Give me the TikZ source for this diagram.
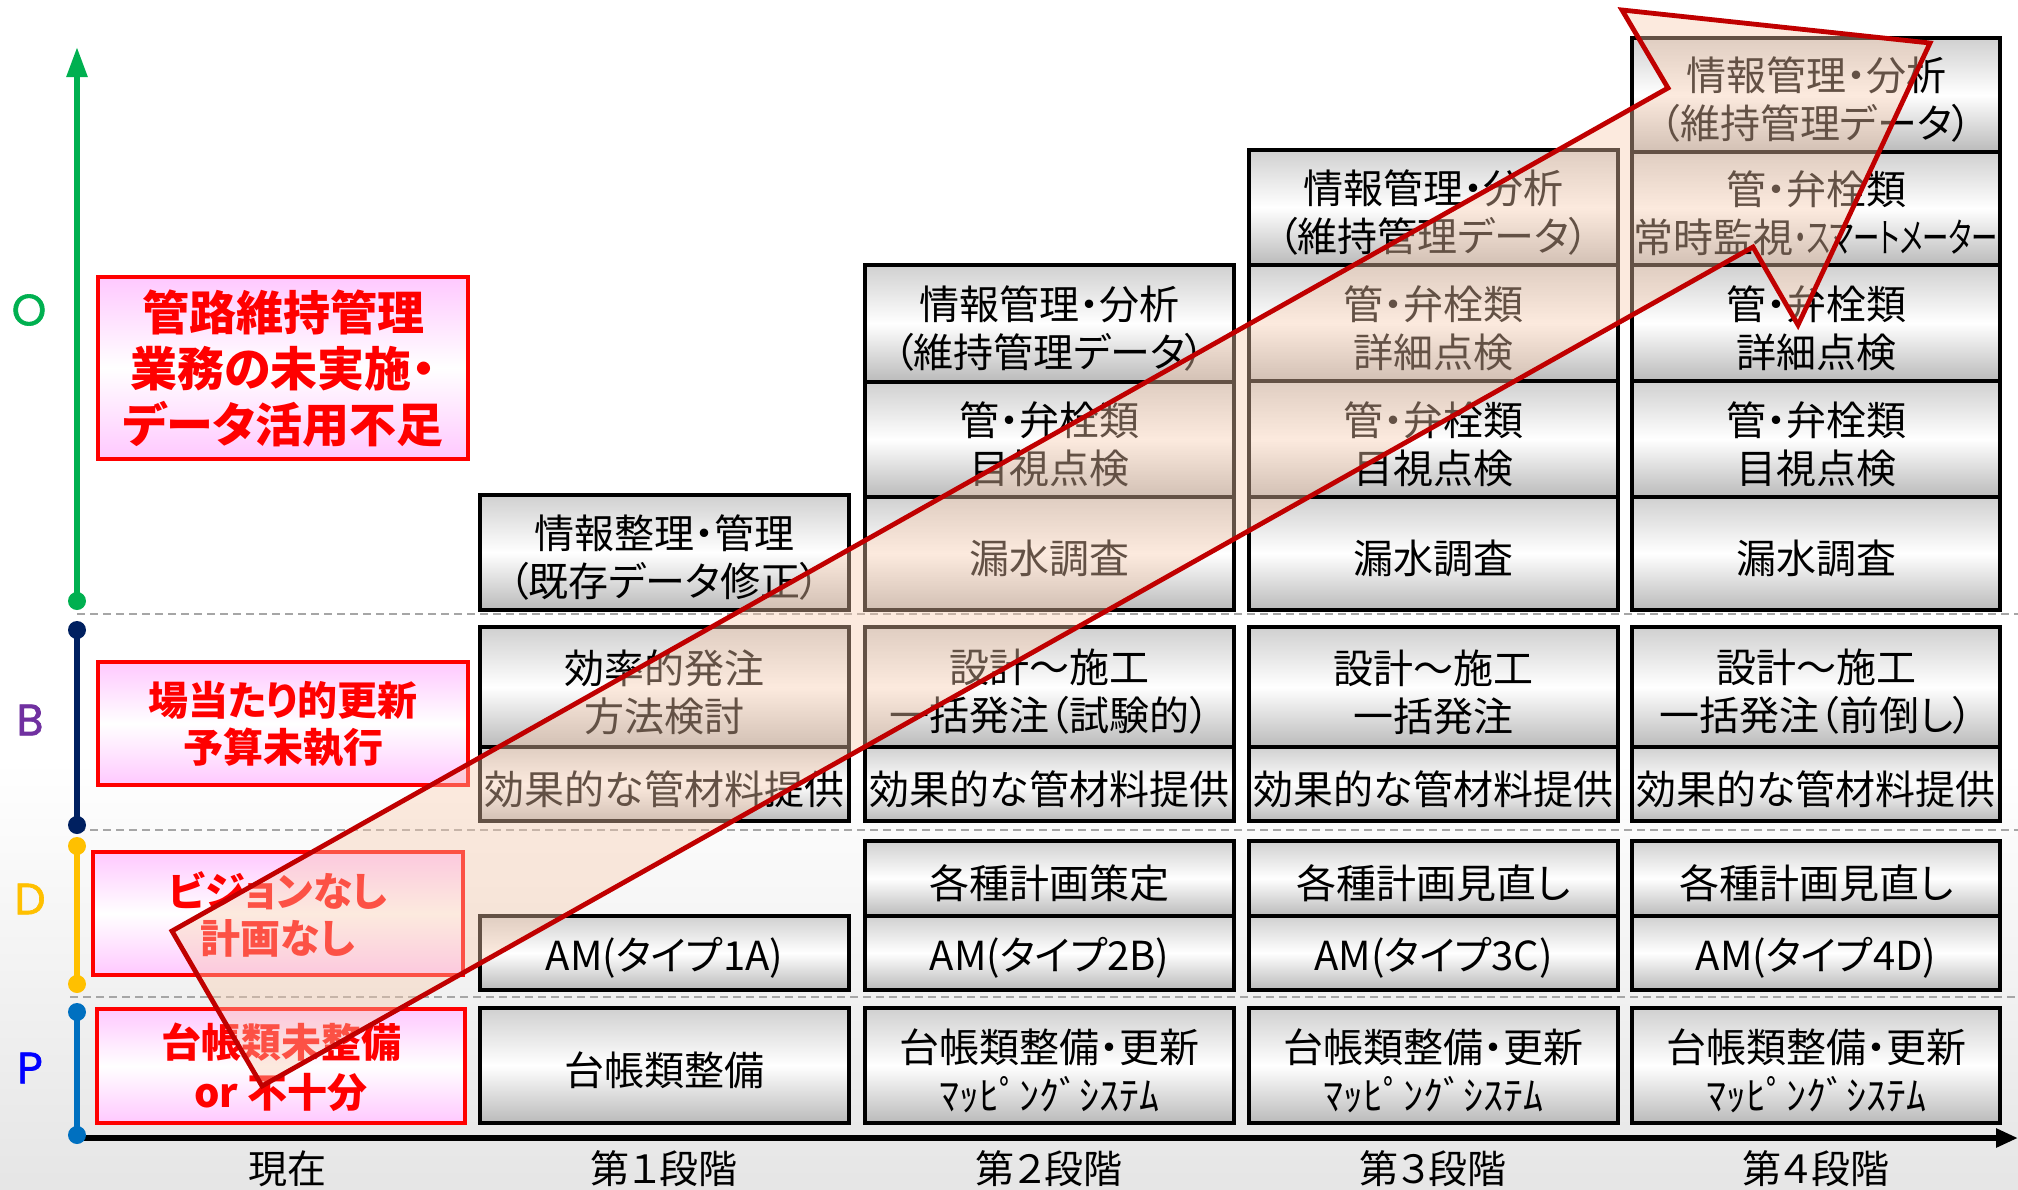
\documentclass[tikz,border=0pt]{standalone}
\usepackage{fontspec}
\setmainfont{Noto Sans CJK JP}[RawFeature=+palt]
\newfontfamily\axisfont{Poppins}[FakeBold=1.5]
\usetikzlibrary{arrows.meta,calc}
\definecolor{axgreen}{HTML}{00B050}
\definecolor{axnavy}{HTML}{002060}
\definecolor{axyellow}{HTML}{FFC000}
\definecolor{axblue}{HTML}{0070C0}
\definecolor{lblpurple}{HTML}{7030A0}
\definecolor{lblblue}{HTML}{0000FF}
\definecolor{darkred}{HTML}{C00000}
\definecolor{pinkfill}{HTML}{FFC8FF}
\definecolor{peach}{HTML}{F8CBAD}
\definecolor{boxtop}{HTML}{D0D0D0}
\definecolor{boxbot}{HTML}{BABABA}
\newcommand\stagefont{\fontsize{20}{24}\selectfont}
\newcommand\stagecell[6]{%
  \path[stageframe] (#2,#3) rectangle (#4,#5);
  \node[stagetext] (#1) at ($(#2,#3)!0.5!(#4,#5)$) {#6};}
\newcommand\redcell[7]{%
  \path[redframe] (#2,#3) rectangle (#4,#5);
  \node[redtext, font=#7] (#1) at ($(#2,#3)!0.5!(#4,#5)$) {#6};}
\begin{document}
\begin{tikzpicture}[x=0.5pt,y=-0.5pt,
  stageframe/.style={draw=black, line width=2pt, top color=boxtop, bottom color=boxbot, middle color=white},
  stagetext/.style={inner sep=0pt, align=center, font=\stagefont, text=black, yshift=-2.5pt},
  redframe/.style={draw=red, line width=1.8pt, top color=pinkfill, bottom color=pinkfill, middle color=white},
  redtext/.style={inner sep=0pt, align=center, text=red, yshift=-0.5pt},
  gridline/.style={draw=black!35, line width=0.8pt, dash pattern=on 4pt off 2.5pt},
  axisline/.style={line width=2.8pt},
  enddot/.style={circle, inner sep=0pt, minimum size=9pt},
  letter/.style={font=\axisfont\fontsize{22}{26}\selectfont},
  stagelabel/.style={font=\fontsize{19.5}{23}\selectfont, text=black},
  bigarrow/.style={draw=darkred, line width=2.4pt, line join=miter, fill=peach, fill opacity=0.4}
]
\useasboundingbox (0,0) rectangle (2018,1189);
\fill[white] (0,0) rectangle (2018,1189);
\fill[top color=white, bottom color=black!10] (0,760) rectangle (2018,1189);

% dashed separators
\draw[gridline] (77,614) -- (2018,614);
\draw[gridline] (77,830) -- (2018,830);
\draw[gridline] (70,997) -- (2018,997);

% vertical axes
\coordinate (gS) at (77,601); \coordinate (gE) at (77,47);
\draw[axisline, axgreen, -{Triangle[width=10pt,length=15pt]}] (gS) -- (gE);
\node[enddot, fill=axgreen] (gdot) at (gS) {};
\node[enddot, fill=axnavy] (n1) at (77,630) {};
\node[enddot, fill=axnavy] (n2) at (77,825) {};
\draw[axisline, axnavy] (n1.center) -- (n2.center);
\node[enddot, fill=axyellow] (y1) at (77,846) {};
\node[enddot, fill=axyellow] (y2) at (77,984) {};
\draw[axisline, axyellow] (y1.center) -- (y2.center);
% horizontal axis
\coordinate (hS) at (77,1138); \coordinate (hE) at (2018,1138);
\draw[axisline, black, -{Triangle[width=9pt,length=11pt]}] (hS) -- (hE);
\node[enddot, fill=axblue] (b1) at (77,1012) {};
\node[enddot, fill=axblue] (b2) at (77,1135) {};
\draw[axisline, axblue] (b1.center) -- (b2.center);

% axis letters
\node[letter, text=axgreen] (lO) at (29,310) {O};
\node[letter, text=lblpurple] (lB) at (30,720) {B};
\node[letter, text=axyellow] (lD) at (30,899) {D};
\node[letter, text=lblblue] (lP) at (30,1068) {P};

% red problem boxes
\redcell{r1}{98}{277}{468}{459}{\textbf{管路維持管理}\\\textbf{業務の未実施・}\\\textbf{データ活用不足}}{\fontsize{23.5}{28}\selectfont}
\redcell{r2}{98}{662}{468}{785}{\textbf{場当たり的更新}\\\textbf{予算未執行}}{\fontsize{20}{23.5}\selectfont}
\redcell{r3}{93}{852}{463}{975}{\textbf{ビジョンなし}\\\textbf{計画なし}}{\fontsize{20}{23.5}\selectfont}
\redcell{r4}{97}{1009}{465}{1123}{\textbf{台帳類未整備}\\\textbf{or 不十分}}{\fontsize{20}{25}\selectfont}

% stage 1
\stagecell{s1o}{480}{495}{849}{610}{情報整理・管理\\（既存データ修正）}
\stagecell{s1b}{480}{627}{849}{747}{効率的発注\\方法検討}
\stagecell{s1m}{480}{747}{849}{821}{効果的な管材料提供}
\stagecell{s1am}{480}{916}{849}{990}{AM(タイプ1A)}
\stagecell{s1p}{480}{1008}{849}{1123}{台帳類整備}

% stage 2
\stagecell{s2i}{865}{265}{1234}{382}{情報管理・分析\\（維持管理データ）}
\stagecell{s2v}{865}{382}{1234}{497}{管・弁栓類\\目視点検}
\stagecell{s2l}{865}{497}{1234}{610}{漏水調査}
\stagecell{s2b}{865}{627}{1234}{747}{設計～施工\\一括発注（試験的）}
\stagecell{s2m}{865}{747}{1234}{821}{効果的な管材料提供}
\stagecell{s2pl}{865}{841}{1234}{916}{各種計画策定}
\stagecell{s2am}{865}{916}{1234}{990}{AM(タイプ2B)}
\stagecell{s2p}{865}{1008}{1234}{1123}{台帳類整備・更新\\ﾏｯﾋﾟﾝｸﾞｼｽﾃﾑ}

% stage 3
\stagecell{s3i}{1249}{150}{1618}{265}{情報管理・分析\\（維持管理データ）}
\stagecell{s3d}{1249}{265}{1618}{381}{管・弁栓類\\詳細点検}
\stagecell{s3v}{1249}{381}{1618}{497}{管・弁栓類\\目視点検}
\stagecell{s3l}{1249}{497}{1618}{610}{漏水調査}
\stagecell{s3b}{1249}{627}{1618}{747}{設計～施工\\一括発注}
\stagecell{s3m}{1249}{747}{1618}{821}{効果的な管材料提供}
\stagecell{s3pl}{1249}{841}{1618}{916}{各種計画見直し}
\stagecell{s3am}{1249}{916}{1618}{990}{AM(タイプ3C)}
\stagecell{s3p}{1249}{1008}{1618}{1123}{台帳類整備・更新\\ﾏｯﾋﾟﾝｸﾞｼｽﾃﾑ}

% stage 4
\stagecell{s4i}{1632}{38}{2000}{152}{情報管理・分析\\（維持管理データ）}
\stagecell{s4s}{1632}{152}{2000}{265}{管・弁栓類\\常時監視\scalebox{0.66}[1]{・スマートメーター}}
\stagecell{s4d}{1632}{265}{2000}{381}{管・弁栓類\\詳細点検}
\stagecell{s4v}{1632}{381}{2000}{497}{管・弁栓類\\目視点検}
\stagecell{s4l}{1632}{497}{2000}{610}{漏水調査}
\stagecell{s4b}{1632}{627}{2000}{747}{設計～施工\\一括発注（前倒し）}
\stagecell{s4m}{1632}{747}{2000}{821}{効果的な管材料提供}
\stagecell{s4pl}{1632}{841}{2000}{916}{各種計画見直し}
\stagecell{s4am}{1632}{916}{2000}{990}{AM(タイプ4D)}
\stagecell{s4p}{1632}{1008}{2000}{1123}{台帳類整備・更新\\ﾏｯﾋﾟﾝｸﾞｼｽﾃﾑ}

% stage labels
\node[stagelabel] (t0) at (287,1169) {現在};
\node[stagelabel] (t1) at (664,1169) {第１段階};
\node[stagelabel] (t2) at (1049,1169) {第２段階};
\node[stagelabel] (t3) at (1433,1169) {第３段階};
\node[stagelabel] (t4) at (1816,1169) {第４段階};

% big improvement arrow
\coordinate (arA) at (172,931);
\coordinate (arL) at (1668,88);
\coordinate (arLB) at (1622,10);
\coordinate (arT) at (1930,43);
\coordinate (arRB) at (1798,325);
\coordinate (arR) at (1753,247);
\coordinate (arB) at (262,1086);
\draw[bigarrow] (arA) -- (arL) -- (arLB) -- (arT) -- (arRB) -- (arR) -- (arB) -- cycle;
\end{tikzpicture}
\end{document}
